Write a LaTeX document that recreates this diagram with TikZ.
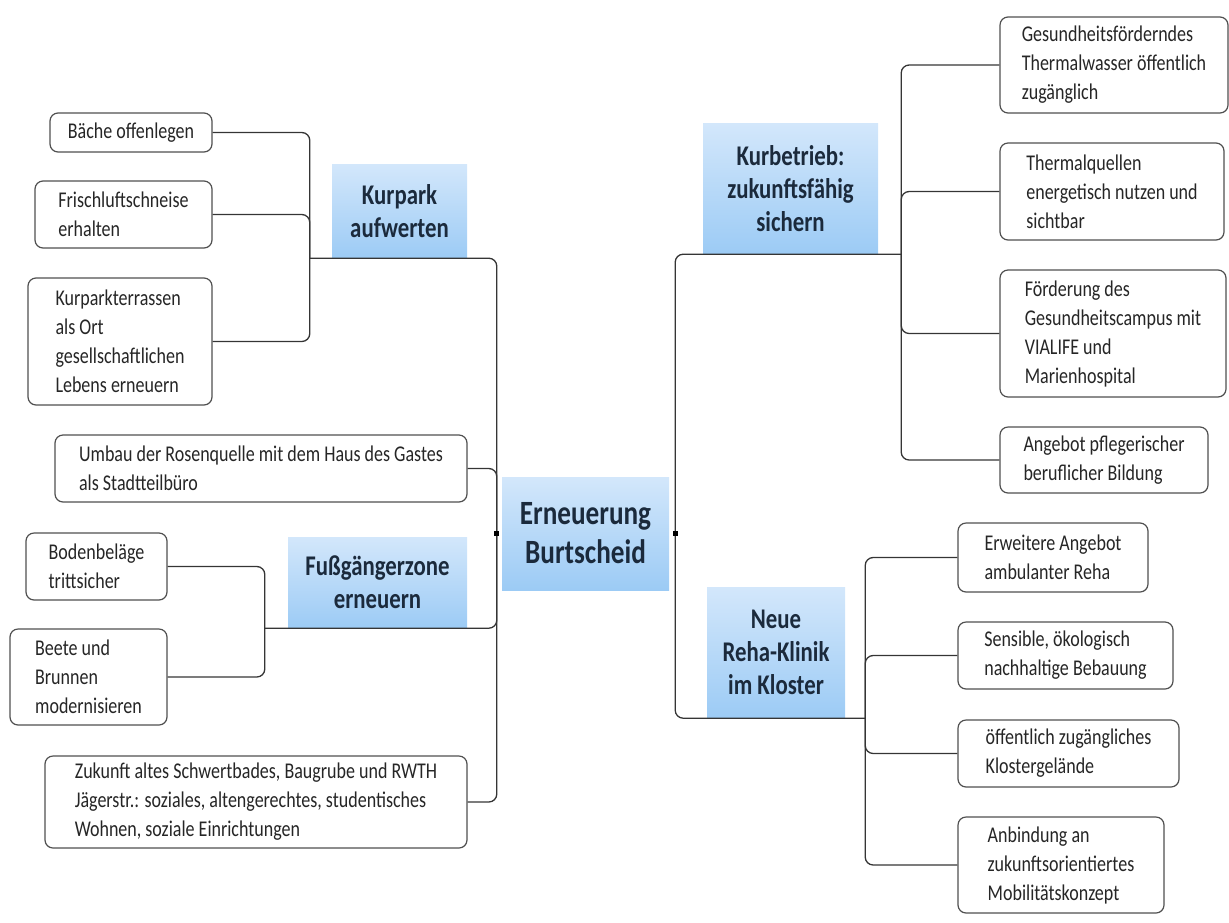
\documentclass[tikz,border=0pt]{standalone}
\usepackage{fontspec}
\setmainfont{Carlito}[FakeStretch=0.8]
\definecolor{linkgray}{HTML}{353535}
\definecolor{boxgray}{HTML}{505050}
\definecolor{topictop}{HTML}{D3E7FB}
\definecolor{topicbot}{HTML}{9CCBF5}
\definecolor{topictext}{HTML}{1B2A3C}
\tikzset{
  leaf/.style={draw=boxgray, line width=1.2pt, rounded corners=8pt, fill=white,
    align=left, text=black!85, font=\fontsize{22.5}{29}\selectfont, inner sep=0pt},
  topic/.style={top color=topictop, bottom color=topicbot, align=center,
    text=topictext, font=\bfseries\fontsize{28.5}{33}\selectfont, inner sep=0pt},
  link/.style={draw=linkgray, line width=1.3pt, rounded corners=8pt},
  knot/.style={fill=black, minimum size=5pt, inner sep=0pt},
}

\begin{document}
\begin{tikzpicture}[x=1pt, y=-1pt]
\useasboundingbox (0,0) rectangle (1229,922);
%
\node[topic, minimum width=167pt, minimum height=113pt, font=\bfseries\fontsize{34}{39}\selectfont] (center) at (585.5,533.5) {Erneuerung\\Burtscheid};
\node[topic, minimum width=135pt, minimum height=94pt] (kurpark) at (399.5,211) {Kurpark\\aufwerten};
\node[topic, minimum width=179pt, minimum height=91pt] (fuss) at (377.5,582.5) {Fußgängerzone\\erneuern};
\node[topic, minimum width=175pt, minimum height=131pt] (kurbetrieb) at (790.5,188.5) {Kurbetrieb:\\zukunftsfähig\\sichern};
\node[topic, minimum width=138pt, minimum height=131pt] (reha) at (776,652.5) {Neue\\Reha-Klinik\\im Kloster};
%
\node[leaf, minimum width=162pt, minimum height=39pt] (baeche) at (131,132.5) {Bäche offenlegen};
\node[leaf, minimum width=177pt, minimum height=67pt] (frisch) at (123.5,214.5) {Frischluftschneise\\erhalten};
\node[leaf, minimum width=184pt, minimum height=127pt] (terrassen) at (120,341.5) {Kurparkterrassen\\als Ort\\gesellschaftlichen\\Lebens erneuern};
\node[leaf, minimum width=412pt, minimum height=67pt] (umbau) at (261,468.5) {Umbau der Rosenquelle mit dem Haus des Gastes\\als Stadtteilbüro};
\node[leaf, minimum width=141pt, minimum height=67pt] (boden) at (96.5,566.5) {Bodenbeläge\\trittsicher};
\node[leaf, minimum width=157pt, minimum height=96pt] (beete) at (88.5,677) {Beete und\\Brunnen\\modernisieren};
\node[leaf, minimum width=422pt, minimum height=92pt] (zukunft) at (256,802) {Zukunft altes Schwertbades, Baugrube und RWTH\\Jägerstr.: soziales, altengerechtes, studentisches\\Wohnen, soziale Einrichtungen};
%
\node[leaf, minimum width=228pt, minimum height=96pt] (gesund) at (1114,65) {Gesundheitsförderndes\\Thermalwasser öffentlich\\zugänglich};
\node[leaf, minimum width=224pt, minimum height=97pt] (thermal) at (1112,191.5) {Thermalquellen\\energetisch nutzen und\\sichtbar};
\node[leaf, minimum width=226pt, minimum height=127pt] (campus) at (1113,333.5) {Förderung des\\Gesundheitscampus mit\\VIALIFE und\\Marienhospital};
\node[leaf, minimum width=208pt, minimum height=66pt] (pflege) at (1104,460) {Angebot pflegerischer\\beruflicher Bildung};
\node[leaf, minimum width=190pt, minimum height=69pt] (ambulant) at (1053,557.5) {Erweitere Angebot\\ambulanter Reha};
\node[leaf, minimum width=215pt, minimum height=67pt] (bebauung) at (1065.5,655.5) {Sensible, ökologisch\\nachhaltige Bebauung};
\node[leaf, minimum width=221pt, minimum height=67pt] (gelaende) at (1068.5,753.5) {öffentlich zugängliches\\Klostergelände};
\node[leaf, minimum width=206pt, minimum height=96pt] (mobil) at (1061,865) {Anbindung an\\zukunftsorientiertes\\Mobilitätskonzept};
%
\coordinate (lroot) at ([xshift=-5pt]center.west);
\coordinate (rroot) at ([xshift=6pt]center.east);
\coordinate (kpfork) at ([xshift=-22pt]kurpark.south west);
\coordinate (fzfork) at ([xshift=-23pt]fuss.south west);
\coordinate (kbfork) at ([xshift=23pt]kurbetrieb.south east);
\coordinate (rhfork) at ([xshift=20pt]reha.south east);
%
\draw[link] (lroot) |- (kurpark.south west) -- (kpfork);
\draw[link] (lroot) |- (umbau.east);
\draw[link] (lroot) |- (fuss.south west) -- (fzfork);
\draw[link] (lroot) |- (zukunft.east);
\draw[link] (kpfork) |- (baeche.east);
\draw[link] (kpfork) |- (frisch.east);
\draw[link] (kpfork) |- (terrassen.east);
\draw[link] (fzfork) |- (boden.east);
\draw[link] (fzfork) |- (beete.east);
%
\draw[link] (rroot) |- (kurbetrieb.south east) -- (kbfork);
\draw[link] (rroot) |- (reha.south east) -- (rhfork);
\draw[link] (kbfork) |- (gesund.west);
\draw[link] (kbfork) |- (thermal.west);
\draw[link] (kbfork) |- (campus.west);
\draw[link] (kbfork) |- (pflege.west);
\draw[link] (rhfork) |- (ambulant.west);
\draw[link] (rhfork) |- (bebauung.west);
\draw[link] (rhfork) |- (gelaende.west);
\draw[link] (rhfork) |- (mobil.west);
%
\node[knot] (ldot) at (lroot) {};
\node[knot] (rdot) at (rroot) {};
\end{tikzpicture}
\end{document}
